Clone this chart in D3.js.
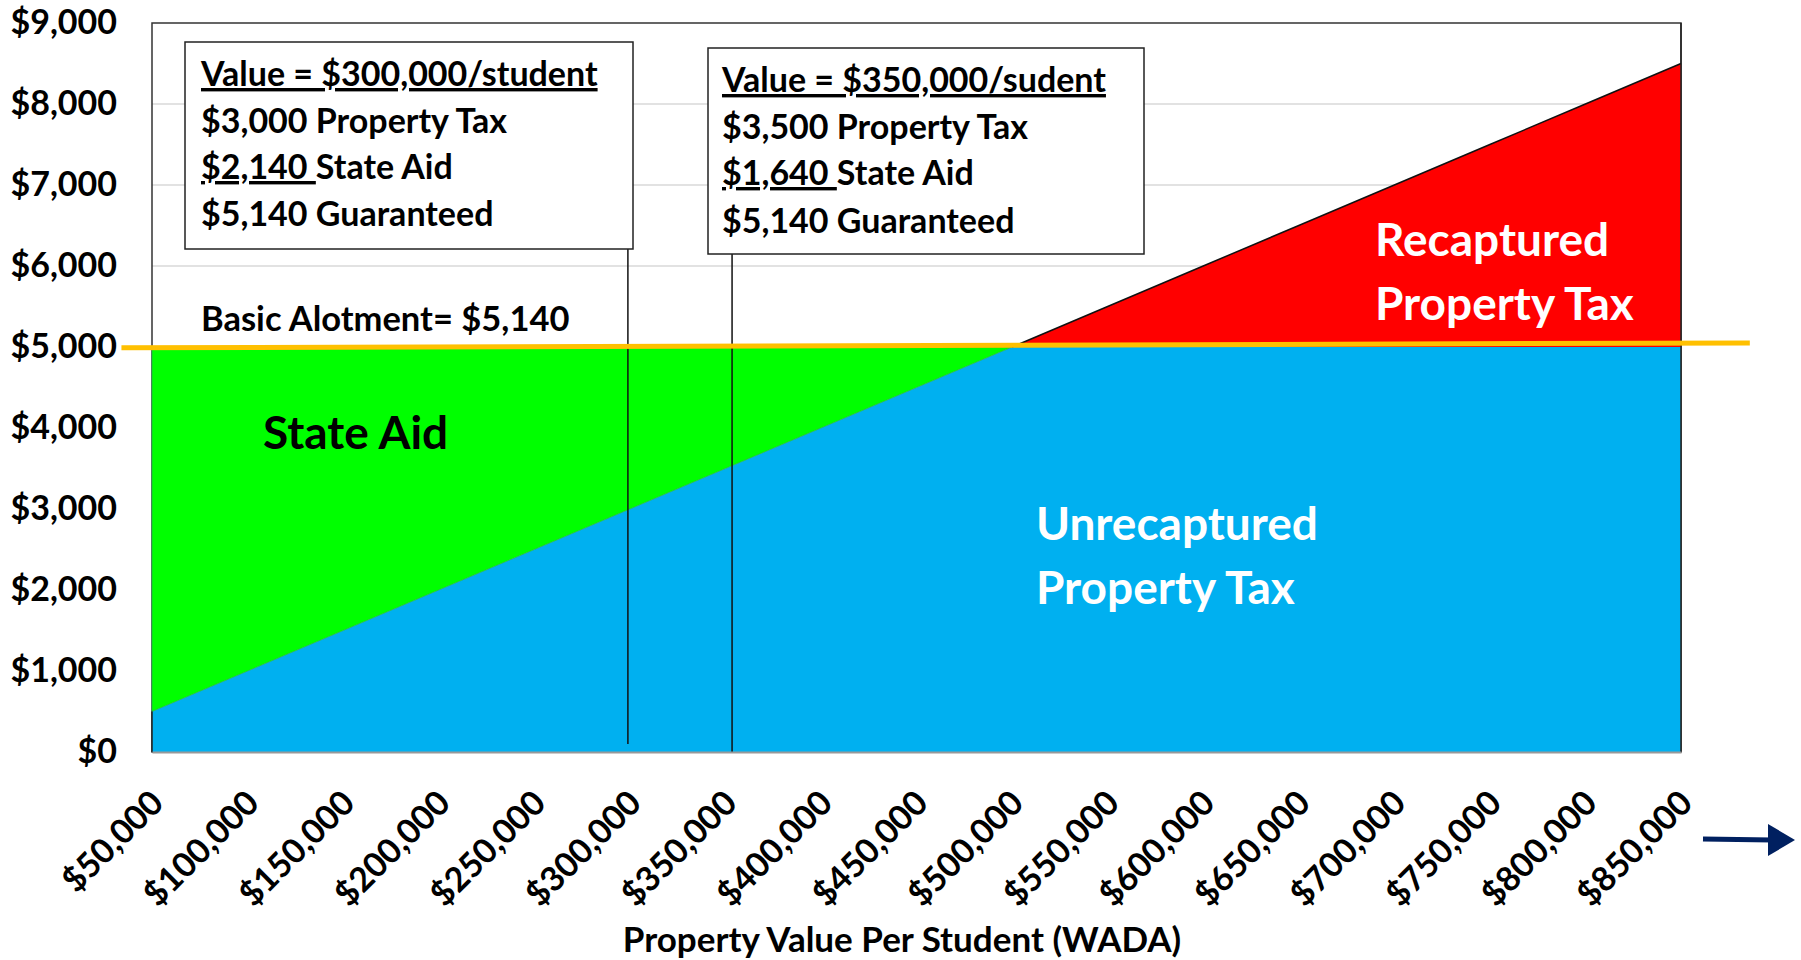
<!DOCTYPE html>
<html>
<head>
<meta charset="utf-8">
<script src="https://cdnjs.cloudflare.com/ajax/libs/d3/7.8.5/d3.min.js"></script>
<style>
  body { margin: 0; background: #fff; }
  text { font-family: Lato, "Open Sans", sans-serif; font-weight: bold; }
</style>
</head>
<body>
<script>
// values
const propertyValues = [50000, 100000, 150000, 200000, 250000, 300000, 350000, 400000, 450000,
    500000, 550000, 600000, 650000, 700000, 750000, 800000, 850000];
const propertyTax = [500, 1000, 1500, 2000, 2500, 3000, 3500, 4000, 4500,
    5000, 5500, 6000, 6500, 7000, 7500, 8000, 8500];
const allotment = 5000;
const yTicks = [0, 1000, 2000, 3000, 4000, 5000, 6000, 7000, 8000, 9000];
const allotLine = [[34000, 4990], [886000, 5050]];
const markerLines = [[299000, 6210, 100], [353500, 6150, 0]];

const box1Lines = ["Value = $300,000/student", "$3,000 Property Tax", "$2,140 |State Aid", "$5,140 Guaranteed"];
const box2Lines = ["Value = $350,000/sudent", "$3,500 Property Tax", "$1,640 |State Aid", "$5,140 Guaranteed"];

const width = 1801, height = 960;

const svg = d3.select("body").append("svg")
    .attr("width", width)
    .attr("height", height);

const x = d3.scaleLinear().domain([50000, 850000]).range([152, 1681]);
const y = d3.scaleLinear().domain([0, 9000]).range([752, 23]);

const data = propertyValues.map((v, i) => ({ v: v, tax: propertyTax[i] }));

// gridlines
svg.append("g")
    .selectAll("line")
    .data(yTicks.filter(t => t > 0 && t < 9000))
    .join("line")
    .attr("x1", x(50000))
    .attr("x2", x(850000))
    .attr("y1", d => y(d))
    .attr("y2", d => y(d))
    .attr("stroke", "#d9d9d9")
    .attr("stroke-width", 1.5);

// plot border
svg.append("rect")
    .attr("x", x(50000))
    .attr("y", y(9000))
    .attr("width", x(850000) - x(50000))
    .attr("height", y(0) - y(9000))
    .attr("fill", "none")
    .attr("stroke", "#333")
    .attr("stroke-width", 1.5);

// unrecaptured property tax (blue)
svg.append("path")
    .datum(data)
    .attr("fill", "#00b0f0")
    .attr("d", d3.area()
        .x(d => x(d.v))
        .y0(y(0))
        .y1(d => y(Math.min(d.tax, allotment))));

// state aid (green)
svg.append("path")
    .datum(data.filter(d => d.tax <= allotment))
    .attr("fill", "#00ff00")
    .attr("stroke", "#22b050")
    .attr("stroke-width", 0.8)
    .attr("d", d3.area()
        .x(d => x(d.v))
        .y0(d => y(d.tax))
        .y1(y(allotment)));

// recaptured property tax (red)
const redData = data.filter(d => d.tax >= allotment);
svg.append("path")
    .datum(redData)
    .attr("fill", "#ff0000")
    .attr("d", d3.area()
        .x(d => x(d.v))
        .y0(y(allotment))
        .y1(d => y(d.tax)));

svg.append("path")
    .datum(redData)
    .attr("fill", "none")
    .attr("stroke", "#111")
    .attr("stroke-width", 1.5)
    .attr("d", d3.line().x(d => x(d.v)).y(d => y(d.tax)));

// right and left edges
svg.append("line")
    .attr("x1", x(850000)).attr("x2", x(850000))
    .attr("y1", y(9000)).attr("y2", y(0))
    .attr("stroke", "#222").attr("stroke-width", 1.5);
svg.append("line")
    .attr("x1", x(50000)).attr("x2", x(50000))
    .attr("y1", y(propertyTax[0])).attr("y2", y(0))
    .attr("stroke", "#222").attr("stroke-width", 1.5);

// marker lines
svg.append("g")
    .selectAll("line")
    .data(markerLines)
    .join("line")
    .attr("x1", d => x(d[0]))
    .attr("x2", d => x(d[0]))
    .attr("y1", d => y(d[1]))
    .attr("y2", d => y(d[2]))
    .attr("stroke", "#111")
    .attr("stroke-width", 1.5);

// basic allotment line
svg.append("path")
    .datum(allotLine)
    .attr("fill", "none")
    .attr("stroke", "#ffc000")
    .attr("stroke-width", 5)
    .attr("d", d3.line().x(d => x(d[0])).y(d => y(d[1])));

// x axis
const xAxis = svg.append("g")
    .attr("transform", `translate(0,${y(0)})`)
    .call(d3.axisBottom(x)
        .tickValues(propertyValues)
        .tickSize(0)
        .tickFormat(d => "$" + d3.format(",")(d)));
xAxis.select(".domain").attr("stroke", "#999").attr("stroke-width", 2);
xAxis.selectAll("text")
    .attr("font-size", 34)
    .attr("font-family", "Lato, sans-serif")
    .attr("fill", "#000")
    .attr("y", 0)
    .attr("dy", 0)
    .style("text-anchor", "end")
    .attr("transform", "translate(13,53) rotate(-45)");

// y axis
const yAxis = svg.append("g")
    .attr("transform", `translate(${x(50000)},0)`)
    .call(d3.axisLeft(y)
        .tickValues(yTicks)
        .tickSize(0)
        .tickPadding(35)
        .tickFormat(d => "$" + d3.format(",")(d)));
yAxis.select(".domain").remove();
yAxis.selectAll("text")
    .attr("font-size", 34)
    .attr("font-family", "Lato, sans-serif")
    .attr("fill", "#000");

// annotation boxes
function drawBox(lines, bx, by, bw, bh, tx, baselines) {
    svg.append("rect")
        .attr("x", bx)
        .attr("y", by)
        .attr("width", bw)
        .attr("height", bh)
        .attr("fill", "#fff")
        .attr("stroke", "#222")
        .attr("stroke-width", 1.5);
    lines.forEach((line, i) => {
        const t = svg.append("text")
            .attr("x", tx)
            .attr("y", baselines[i])
            .attr("font-size", 34)
            .attr("fill", "#000")
            .style("white-space", "pre");
        if (i === 0) {
            t.append("tspan").attr("text-decoration", "underline").text(line);
        } else if (line.indexOf("|") >= 0) {
            const parts = line.split("|");
            t.append("tspan").attr("text-decoration", "underline").text(parts[0]);
            t.append("tspan").text(parts[1]);
        } else {
            t.text(line);
        }
    });
}

drawBox(box1Lines, 185, 42, 448, 207, 201, [86, 133, 179, 226]);
drawBox(box2Lines, 708, 48, 436, 206, 722, [92, 139, 185, 233]);

// labels
svg.append("text")
    .attr("x", 201)
    .attr("y", 331)
    .attr("font-size", 34.5)
    .attr("fill", "#000")
    .text("Basic Alotment= $5,140");

svg.append("text")
    .attr("x", 263)
    .attr("y", 449)
    .attr("font-size", 46)
    .attr("fill", "#000")
    .text("State Aid");

svg.append("text")
    .attr("x", 1036)
    .attr("y", 540)
    .attr("font-size", 46)
    .attr("fill", "#fff")
    .text("Unrecaptured");
svg.append("text")
    .attr("x", 1036)
    .attr("y", 604)
    .attr("font-size", 46)
    .attr("fill", "#fff")
    .text("Property Tax");

svg.append("text")
    .attr("x", 1375)
    .attr("y", 256)
    .attr("font-size", 46)
    .attr("fill", "#fff")
    .text("Recaptured");
svg.append("text")
    .attr("x", 1375)
    .attr("y", 320)
    .attr("font-size", 46)
    .attr("fill", "#fff")
    .text("Property Tax");

// x axis title
svg.append("text")
    .attr("x", 902)
    .attr("y", 952)
    .attr("font-size", 35)
    .attr("fill", "#000")
    .style("text-anchor", "middle")
    .text("Property Value Per Student (WADA)");

// arrow
svg.append("line")
    .attr("x1", 1703).attr("y1", 839)
    .attr("x2", 1772).attr("y2", 840)
    .attr("stroke", "#002060")
    .attr("stroke-width", 5);
svg.append("path")
    .attr("d", "M1768,824 L1795,840 L1768,856 Z")
    .attr("fill", "#002060");
</script>
</body>
</html>
